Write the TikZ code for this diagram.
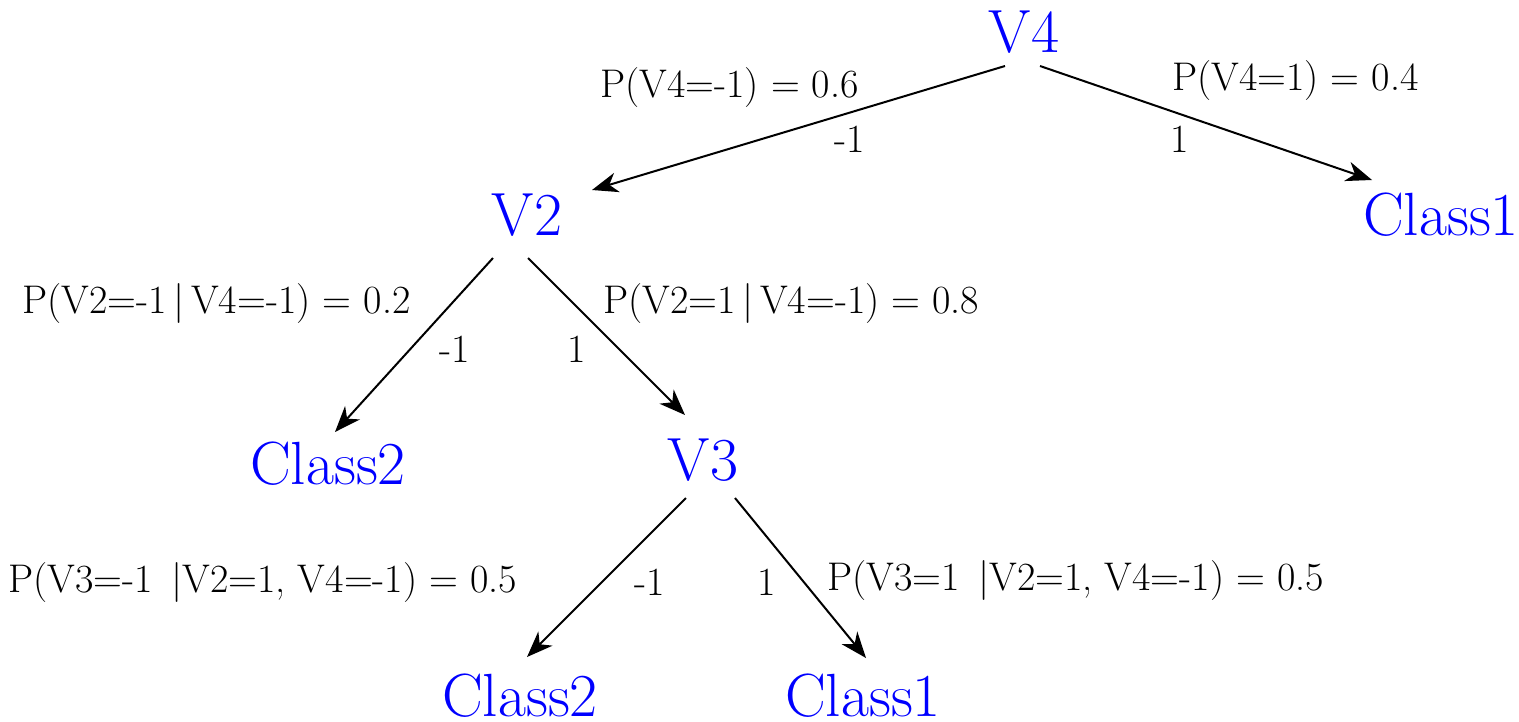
\documentclass[tikz,border=0pt]{standalone}
\usepackage{fontspec}
\usetikzlibrary{arrows.meta}
\begin{document}
\begin{tikzpicture}[x=1pt,y=-1pt,
  blue node/.style={text=blue, font=\fontsize{61}{68}\selectfont, inner sep=0pt, anchor=base},
  lab/.style={font=\fontsize{40}{46}\selectfont, inner sep=0pt, anchor=base west},
  edgelab/.style={font=\fontsize{40}{46}\selectfont, inner sep=0pt, anchor=base},
  arr/.style={draw=black, line width=2pt, -{Stealth[length=26pt,width=20pt,inset=8pt]}}]
\useasboundingbox (0,0) rectangle (1519,721);
% tree nodes
\node[blue node] (v4) at (1024,52) {V4};
\node[blue node] (v2) at (527,235) {V2};
\node[blue node] (c1r) at (1441,235) {Class1};
\node[blue node] (c2l) at (328,484) {Class2};
\node[blue node] (v3) at (703,480) {V3};
\node[blue node] (c2b) at (520,716) {Class2};
\node[blue node] (c1b) at (863,716) {Class1};
% probability labels
\node[lab] (p1) at (600,97) {P(V4=-1) = 0.6};
\node[lab] (p2) at (1172,90) {P(V4=1) = 0.4};
\node[lab] (p3) at (22,313) {P(V2=-1\,|\,V4=-1) = 0.2};
\node[lab] (p4) at (603,313) {P(V2=1\,|\,V4=-1) = 0.8};
\node[lab] (p5) at (8,592) {P(V3=-1 \,|V2=1, V4=-1) = 0.5};
\node[lab] (p6) at (827,590) {P(V3=1 \,|V2=1, V4=-1) = 0.5};
% edge value labels
\node[edgelab] (e1) at (850,152) {-1};
\node[edgelab] (e2) at (1180,152) {1};
\node[edgelab] (e3) at (455,362) {-1};
\node[edgelab] (e4) at (577,362) {1};
\node[edgelab] (e5) at (650,595) {-1};
\node[edgelab] (e6) at (767,595) {1};
% connectors
\draw[arr] ([shift={(-19,14)}]v4.base) -- ([shift={(65,-45)}]v2.base);
\draw[arr] ([shift={(16,14)}]v4.base) -- ([shift={(-69,-55)}]c1r.base);
\draw[arr] ([shift={(-34,23)}]v2.base) -- ([shift={(7,-52)}]c2l.base);
\draw[arr] ([shift={(1,23)}]v2.base) -- ([shift={(-18,-65)}]v3.base);
\draw[arr] ([shift={(-17,18)}]v3.base) -- ([shift={(7,-59)}]c2b.base);
\draw[arr] ([shift={(32,18)}]v3.base) -- ([shift={(3,-58)}]c1b.base);
\end{tikzpicture}
\end{document}
